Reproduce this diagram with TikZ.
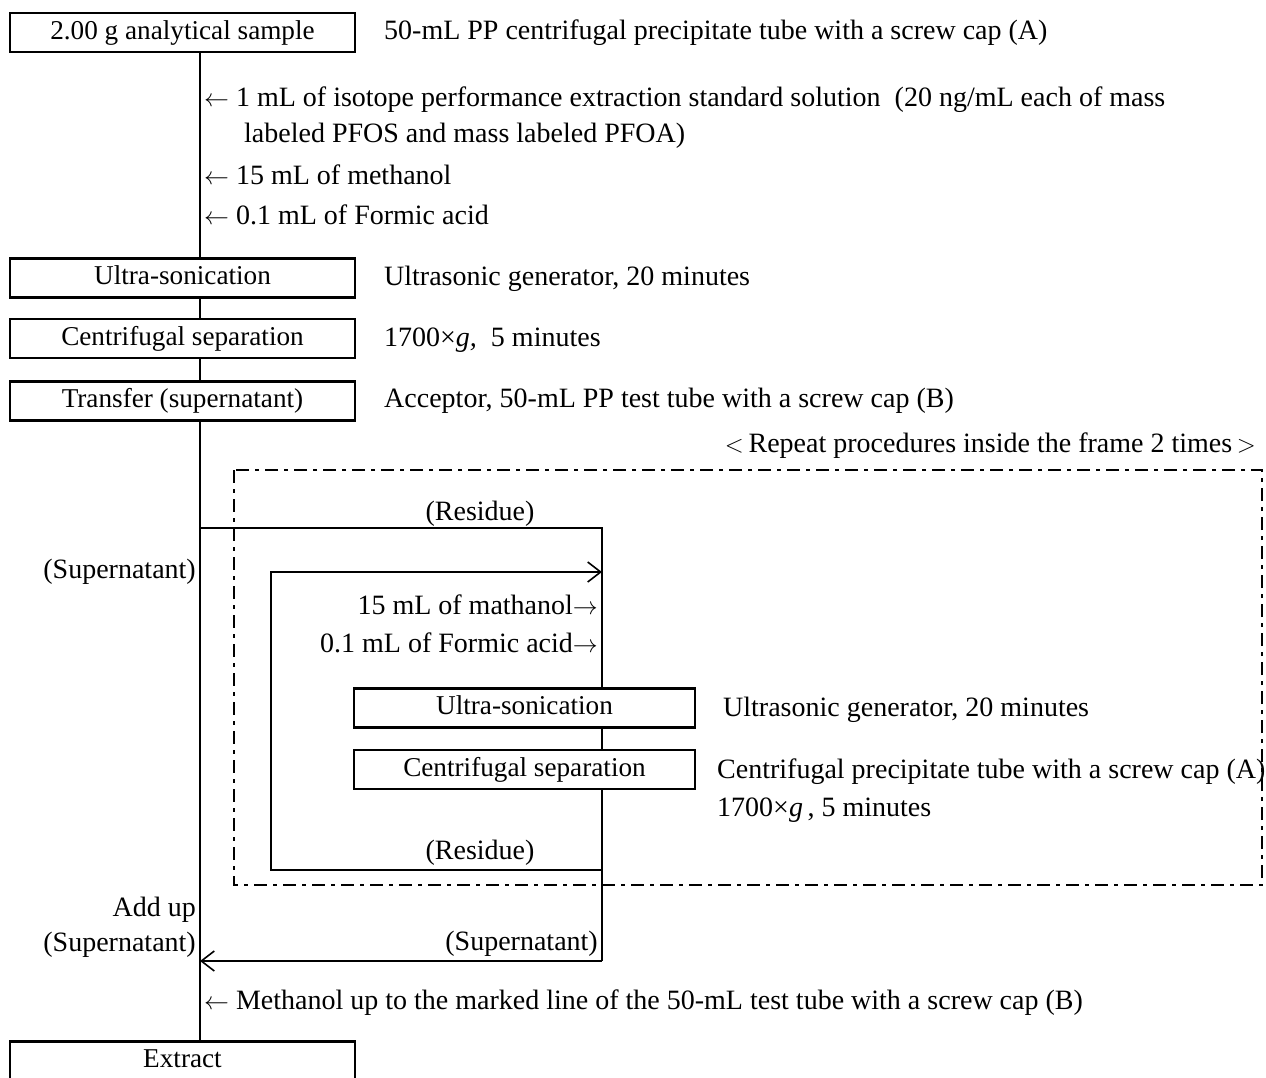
\documentclass[tikz,border=0pt]{standalone}
\usepackage{fontspec}
\setmainfont{Liberation Serif}
\usetikzlibrary{arrows.meta}
\begin{document}
\begin{tikzpicture}[x=1pt,y=-1pt,
  every node/.style={font=\fontsize{28}{33}\selectfont},
  box/.style={draw, line width=2.2pt, minimum width=345pt, minimum height=39pt, inner sep=0pt, text height=19pt, text depth=6pt, font=\fontsize{27.2}{32}\selectfont},
  sbox/.style={box, minimum width=341pt},
  lbl/.style={inner sep=0pt, text height=19pt, text depth=6pt},
  ln/.style={line width=2pt},
  thinln/.style={line width=1.4pt},
  frm/.style={line width=2pt, dash pattern=on 13pt off 6pt on 4pt off 6pt},
  tip/.style={-{Straight Barb[length=13pt,width=20pt,line width=1.6pt]}}
]
\useasboundingbox (0,0) rectangle (1266,1077);
% main column
\coordinate (m) at (200,0);
\coordinate (c) at (602,0);
\node[box] (b1) at (182.5,32.5) {2.00 g analytical sample};
\node[box] (us1) at (182.5,278) {Ultra-sonication};
\node[box] (cs1) at (182.5,338.5) {Centrifugal separation};
\node[box] (tr1) at (182.5,401) {Transfer (supernatant)};
\node[box] (ex) at (182.5,1061) {Extract};
\node[sbox] (us2) at (524.5,708) {Ultra-sonication};
\node[sbox] (cs2) at (524.5,769.5) {Centrifugal separation};

% side texts
\node[lbl,anchor=west] (t1) at (384,33) {50-mL PP centrifugal precipitate tube with a screw cap (A)};
\node[lbl,anchor=west] (a1) at (204,100) {$\leftarrow$\ 1 mL of isotope performance extraction standard solution\ \ (20 ng/mL each of mass};
\node[lbl,anchor=west] (a1b) at (244,136) {labeled PFOS and mass labeled PFOA)};
\node[lbl,anchor=west] (a2) at (204,178) {$\leftarrow$\ 15 mL of methanol};
\node[lbl,anchor=west] (a3) at (204,218) {$\leftarrow$\ 0.1 mL of Formic acid};
\node[lbl,anchor=west] (t2) at (384,279) {Ultrasonic generator, 20 minutes};
\node[lbl,anchor=west] (t3) at (384,340) {1700×\textit{g,}\ \ 5 minutes};
\node[lbl,anchor=west] (t4) at (384,401) {Acceptor, 50-mL PP test tube with a screw cap (B)};
\node[lbl,anchor=east] (rep) at (1256,446) {$<$\,Repeat procedures inside the frame 2 times\,$>$};
\node[lbl] (res1) at (480,514) {(Residue)};
\node[lbl,anchor=east] (sup1) at (196,572) {(Supernatant)};
\node[lbl,anchor=east] (m15) at (598,608) {15 mL of mathanol$\rightarrow$};
\node[lbl,anchor=east] (fa) at (598,646) {0.1 mL of Formic acid$\rightarrow$};
\node[lbl,anchor=west] (t5) at (723,710) {Ultrasonic generator, 20 minutes};
\node[lbl,anchor=west] (t6) at (717,772) {Centrifugal precipitate tube with a screw cap (A)};
\node[lbl,anchor=west] (t7) at (717,810) {1700×\textit{g}\,, 5 minutes};
\node[lbl] (res2) at (480,853) {(Residue)};
\node[lbl,anchor=east] (add) at (196,910) {Add up};
\node[lbl,anchor=east] (sup2) at (196,945) {(Supernatant)};
\node[lbl,anchor=east] (sup3) at (598,944) {(Supernatant)};
\node[lbl,anchor=west] (meth) at (204,1003) {$\leftarrow$\ Methanol up to the marked line of the 50-mL test tube with a screw cap (B)};

% frame
\coordinate (f1) at (234,470);
\coordinate (f2) at (1262,885);
\draw[frm] (f1) rectangle (f2);

% connectors
\coordinate (br) at (200,528);
\coordinate (brc) at (602,528);
\coordinate (ret) at (602,961);
\coordinate (reta) at (200,961);
\coordinate (lb) at (602,870);
\coordinate (lbk) at (271,870);
\coordinate (ltk) at (271,572);
\coordinate (ltc) at (602,572);
\draw[ln] (b1.south -| m) -- (us1.north -| m);
\draw[ln] (us1.south -| m) -- (cs1.north -| m);
\draw[ln] (cs1.south -| m) -- (tr1.north -| m);
\draw[ln] (tr1.south -| m) -- (ex.north -| m);
\draw[ln] (br) -- (brc) -- (us2.north -| c);
\draw[ln] (us2.south -| c) -- (cs2.north -| c);
\draw[ln] (cs2.south -| c) -- (ret);
\draw[ln,tip] (ret) -- (reta);
\draw[thinln,tip] (lb) -- (lbk) -- (ltk) -- (ltc);
\end{tikzpicture}
\end{document}
